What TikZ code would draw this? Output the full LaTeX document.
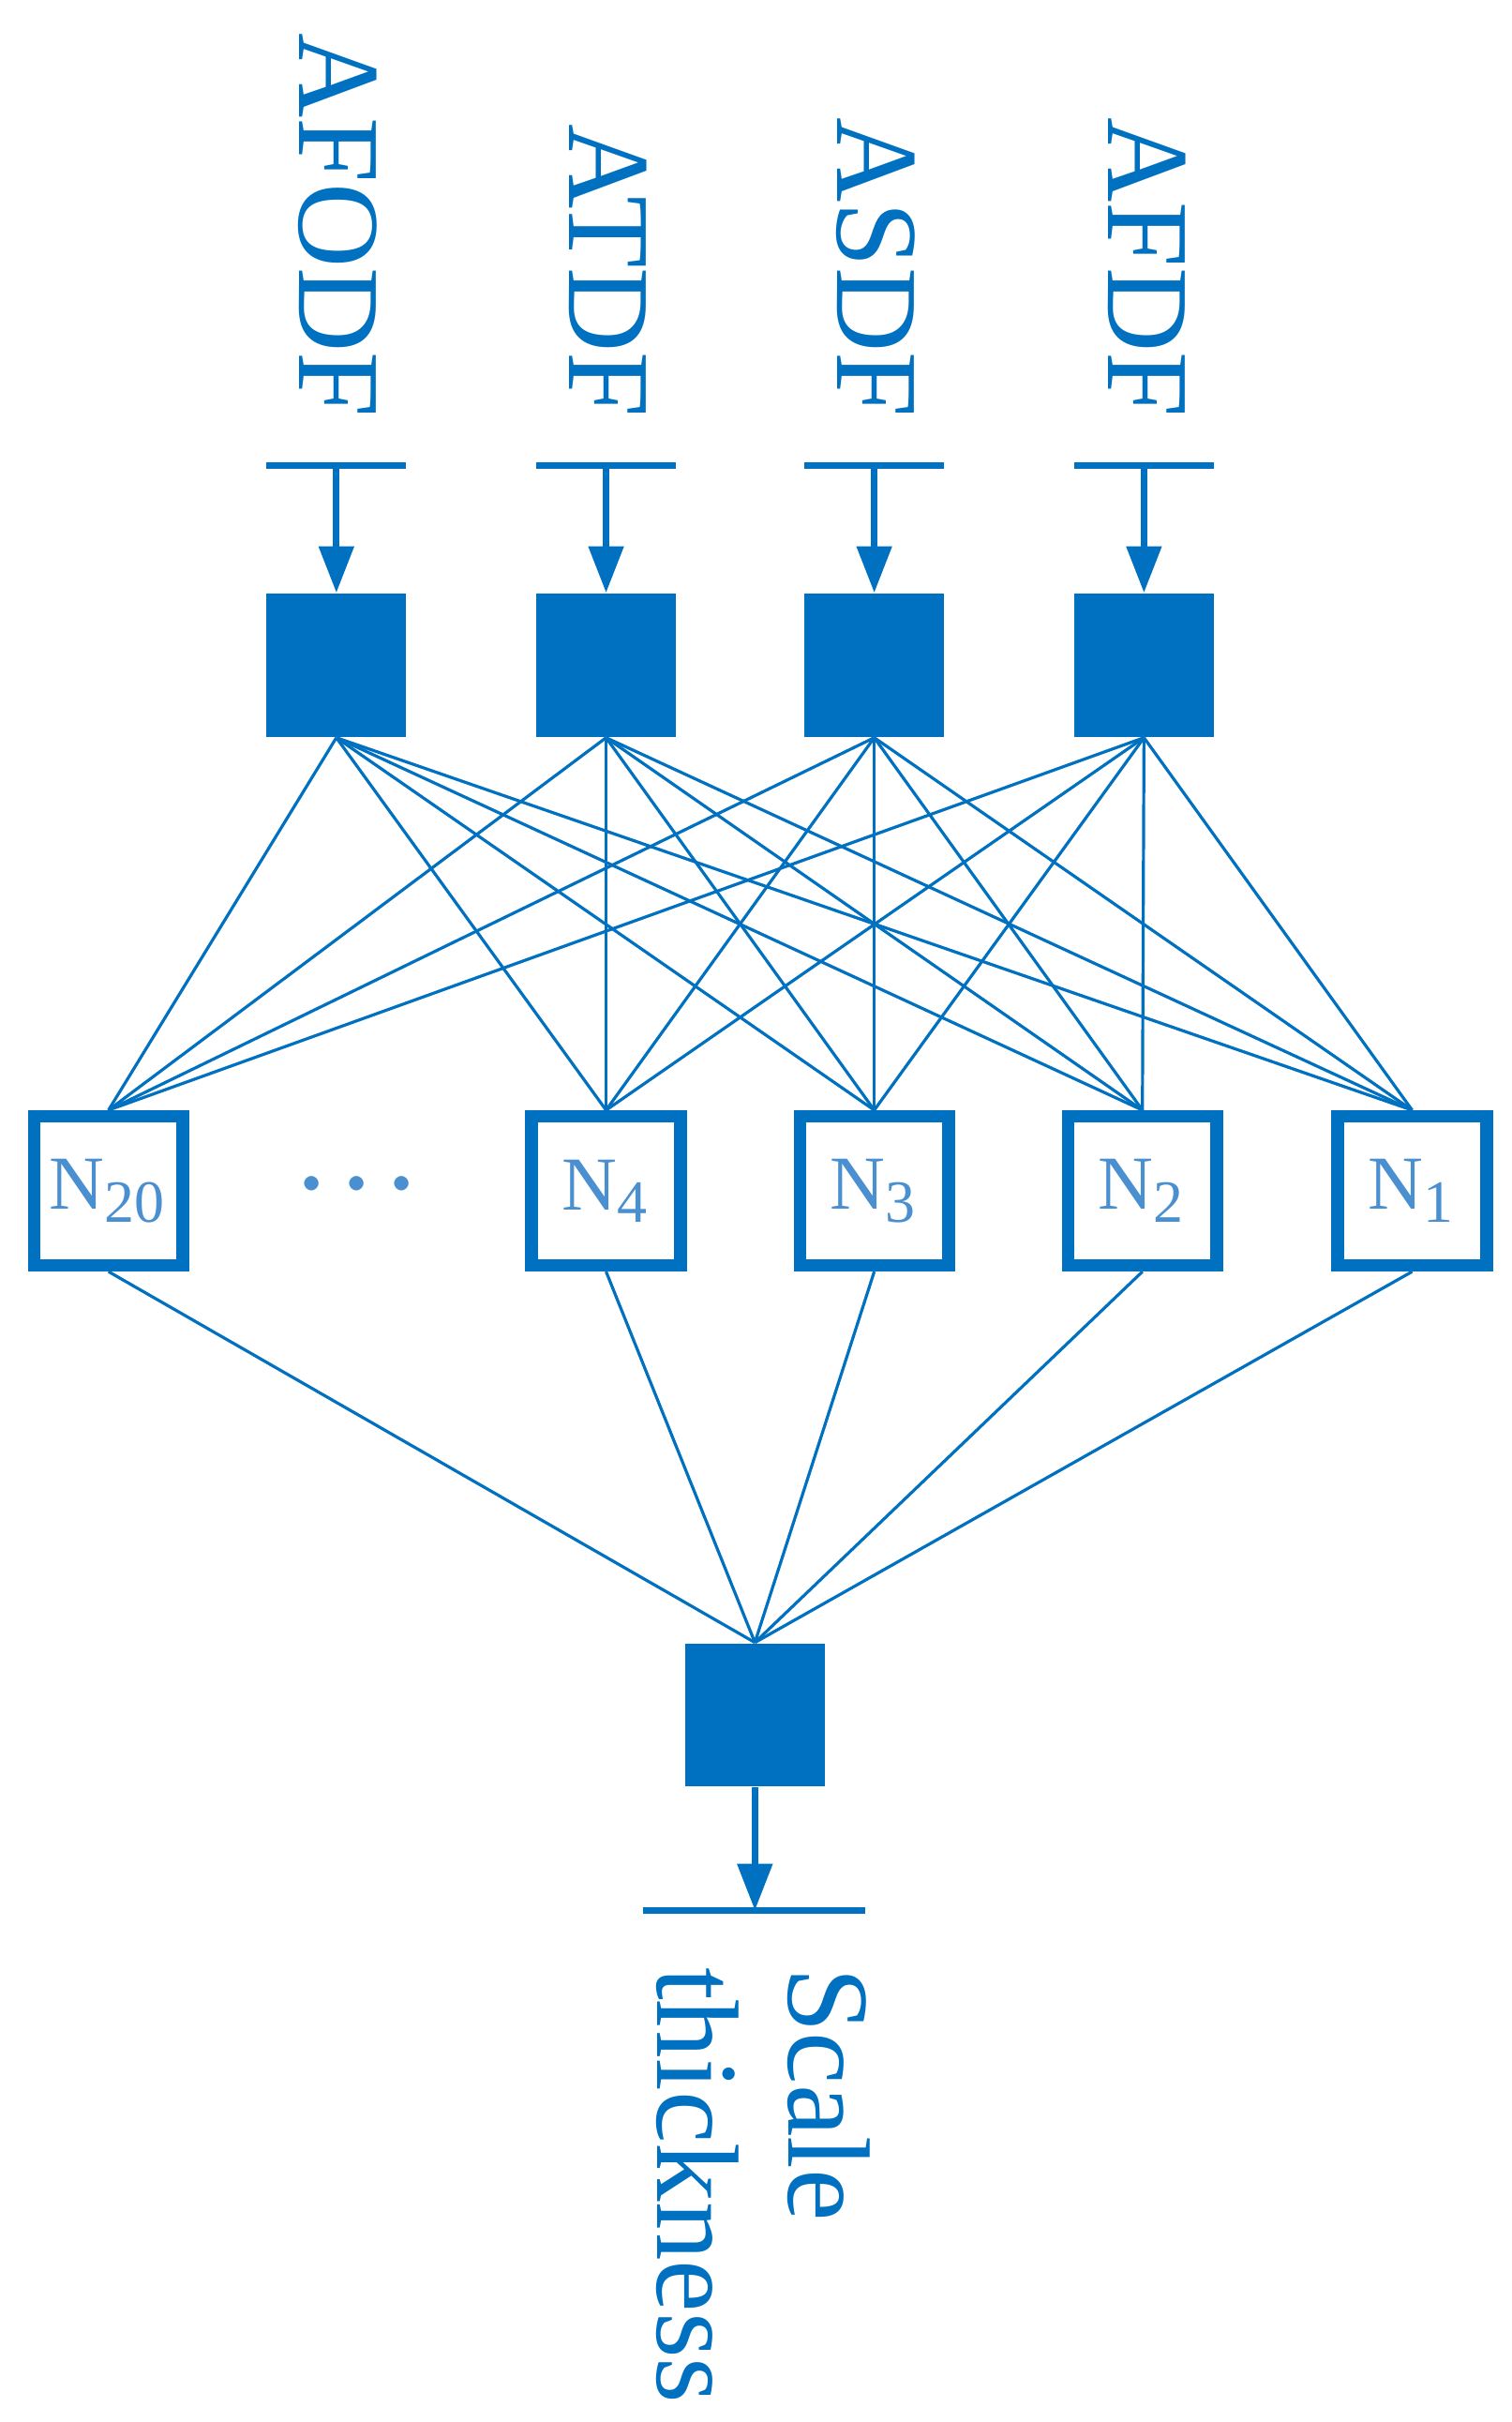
\documentclass[tikz,border=0pt]{standalone}
\usepackage{fontspec}
\setmainfont{Liberation Serif}
\usetikzlibrary{arrows.meta}
\definecolor{nb}{HTML}{0070C0}
\definecolor{lb}{HTML}{4A8FD0}
\begin{document}
\begin{tikzpicture}[x=0.01cm,y=-0.01cm,
  lab/.style={rotate=-90,text=nb,font=\fontsize{21.5}{24}\selectfont,inner sep=0pt},
  inp/.style={fill=nb,draw=none,minimum width=0.9cm,minimum height=0.92cm,inner sep=0pt},
  hid/.style={draw=nb,line width=2.3pt,minimum width=0.96cm,minimum height=0.96cm,inner sep=0pt,text=lb,font=\fontsize{14}{14}\selectfont},
  bar/.style={draw=nb,line width=1.2pt},
  arr/.style={draw=nb,line width=1.2pt,-{Triangle[length=0.3cm,width=0.22cm]}},
  con/.style={draw=nb,line width=0.55pt}]
\useasboundingbox (0,0) rectangle (975,1562);
% labels
\node[lab,anchor=east] (l1) at (218,270) {AFODF};
\node[lab,anchor=east] (l2) at (392,270) {ATDF};
\node[lab,anchor=east] (l3) at (565,270) {ASDF};
\node[lab,anchor=east] (l4) at (740,270) {AFDF};
% input squares
\foreach \i/\x in {1/217,2/391,3/564,4/738}{
  \node[inp] (i\i) at (\x,429) {};
  \coordinate (b\i) at (\x,300);
  \draw[bar] (\x-45,300) -- (\x+45,300);
  \draw[arr] (b\i) -- (i\i.north);
}
% hidden
\node[hid] (h20) at (70,768) {N\textsubscript{\fontsize{11}{11}\selectfont 20}};
\node[hid] (h4) at (391,768) {N\textsubscript{\fontsize{11}{11}\selectfont 4}};
\node[hid] (h3) at (564,768) {N\textsubscript{\fontsize{11}{11}\selectfont 3}};
\node[hid] (h2) at (737,768) {N\textsubscript{\fontsize{11}{11}\selectfont 2}};
\node[hid] (h1) at (911,768) {N\textsubscript{\fontsize{11}{11}\selectfont 1}};
\node[text=lb,font=\fontsize{30}{30}\selectfont\bfseries] (dots) at (230,768) {\raisebox{0.1ex}{$\cdot\!\cdot\!\cdot$}};
\foreach \i in {1,2,3,4}{
  \foreach \h in {20,4,3,2,1}{
    \draw[con] (i\i.south) -- (h\h.north);
  }
}
% output
\node[inp] (o) at (487,1106) {};
\foreach \h in {20,4,3,2,1}{ \draw[con] (h\h.south) -- (o.north); }
\coordinate (ob) at (487,1232);
\draw[bar] (415,1232) -- (558,1232);
\draw[arr] (o.south) -- (ob);
\node[lab,anchor=north west,align=left] (out) at (562,1268) {Scale\\thickness};
\end{tikzpicture}
\end{document}
